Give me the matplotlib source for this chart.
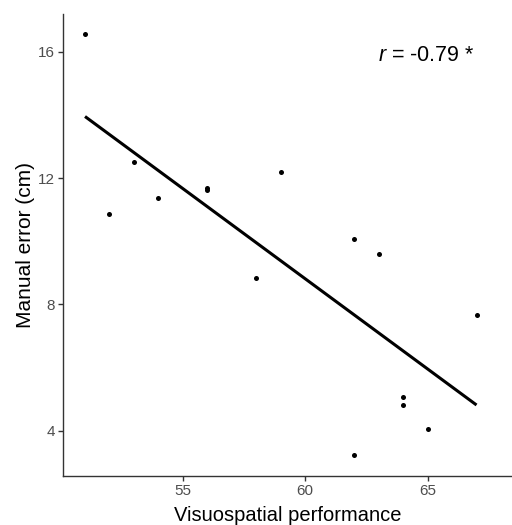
import numpy as np
import matplotlib
matplotlib.use("Agg")
import matplotlib.pyplot as plt

plt.rcParams['font.family'] = ['Liberation Sans', 'DejaVu Sans']
plt.rcParams['mathtext.fontset'] = 'custom'
plt.rcParams['mathtext.it'] = 'Liberation Sans:italic'
plt.rcParams['mathtext.rm'] = 'Liberation Sans'

visuospatial = [51, 52, 53, 54, 56, 56, 58, 59, 62, 62, 63, 64, 64, 65, 67]
manual_error = [16.55, 10.87, 12.50, 11.37, 11.68, 11.63, 8.85, 12.19, 10.07, 3.24,
                9.59, 5.08, 4.81, 4.06, 7.66]
x_ticks = [55, 60, 65]
y_ticks = [4, 8, 12, 16]
r_label = "-0.79 *"

x = np.array(visuospatial)
y = np.array(manual_error)

fig = plt.figure(figsize=(5.12, 5.25), dpi=100)
ax = fig.add_axes([63/512, 1-476/525, 1-63/512, (476-14)/525])

ax.scatter(x, y, s=13, color='black', zorder=3, linewidths=0)
slope, intercept = np.polyfit(x, y, 1)
xs = np.array([x.min(), x.max()])
ax.plot(xs, slope*xs + intercept, color='black', lw=2.2, solid_capstyle='butt')

ax.set_xlim(50.10, 68.45)
ax.set_ylim(2.57, 17.19)
ax.set_xticks(x_ticks)
ax.set_yticks(y_ticks)
for s in ['top', 'right']:
    ax.spines[s].set_visible(False)
for s in ['left', 'bottom']:
    ax.spines[s].set_color('#333333')
    ax.spines[s].set_linewidth(1.0)
ax.tick_params(axis='both', colors='#333333', labelcolor='#4D4D4D', labelsize=11,
               length=3.5, width=1.0, pad=2.5)

ax.set_xlabel("Visuospatial performance", fontsize=14.5, color='black', labelpad=5.5)
ax.set_ylabel("Manual error (cm)", fontsize=15, color='black', labelpad=2)

ax.text(0.702, 0.898, r"$r$ = " + r_label, transform=ax.transAxes, fontsize=15.5,
        ha='left', va='baseline', color='black')

fig.savefig("out.png", dpi=100, facecolor='white')
